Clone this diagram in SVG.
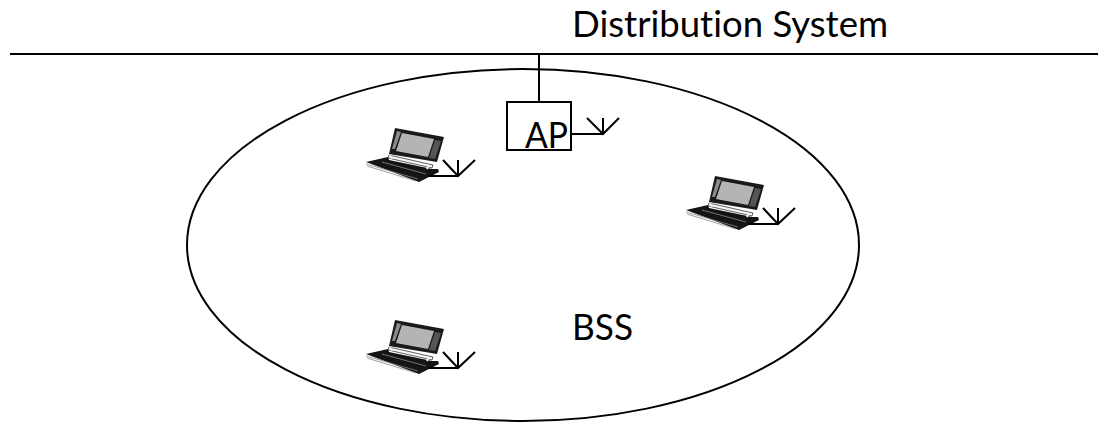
<svg xmlns="http://www.w3.org/2000/svg" width="1098" height="422" viewBox="0 0 1098 422">
<style>
.l{fill:none;stroke:#000;stroke-width:2}
.t{font-family:Lato,"Noto Sans",sans-serif;fill:#000;font-size:37px;font-variant-ligatures:none}
</style>
<defs>
<g id="laptop">
<path d="M45 38L94 47L87 72L39 64Z" fill="#1a1a1a"/>
<path d="M52 43L84 49L78 67L46 61Z" fill="#b4b4b4"/>
<path d="M47 41L51 42L45 59L42 59Z" fill="#8c8c8c"/>
<path d="M85 50L91 51L85 69L79 68Z" fill="#555"/>
<path d="M39 65L83 75L82 78L38 68Z" fill="#f4f4f4" stroke="#222" stroke-width=".7"/>
<path d="M16 72L38 67L39 70L82 79L88 79L89 82L69 92Z" fill="#141414"/>
<path d="M16 74L68 89M17 76L66 91M32 72L76 84" fill="none" stroke="#888" stroke-width=".8"/>
<path d="M40 65L42 69M79 75L77 79" fill="none" stroke="#eee" stroke-width="2"/>
<path class="l" d="M78 86H108M93 70L108 86L125 70M108 70V86"/>
</g>
</defs>
<g id="connectors">
<path class="l" d="M10 54H1098"/>
<path class="l" d="M539 54V102"/>
<path class="l" d="M571 134H603M587 118L603 134L619 118M603 118V134"/>
</g>
<g id="bss"><ellipse class="l" cx="523" cy="245" rx="336" ry="176"/><text class="t" x="572" y="340" textLength="61" lengthAdjust="spacingAndGlyphs">BSS</text></g>
<g id="distribution-system"><text class="t" x="572" y="37" textLength="316" lengthAdjust="spacingAndGlyphs">Distribution System</text></g>
<g id="ap"><rect class="l" x="507" y="102" width="64" height="48"/><text class="t" x="525" y="148" textLength="43" lengthAdjust="spacingAndGlyphs">AP</text></g>
<g id="laptop-1"><use href="#laptop" x="350" y="90"/></g>
<g id="laptop-2"><use href="#laptop" x="670" y="138"/></g>
<g id="laptop-3"><use href="#laptop" x="350" y="282"/></g>
</svg>
